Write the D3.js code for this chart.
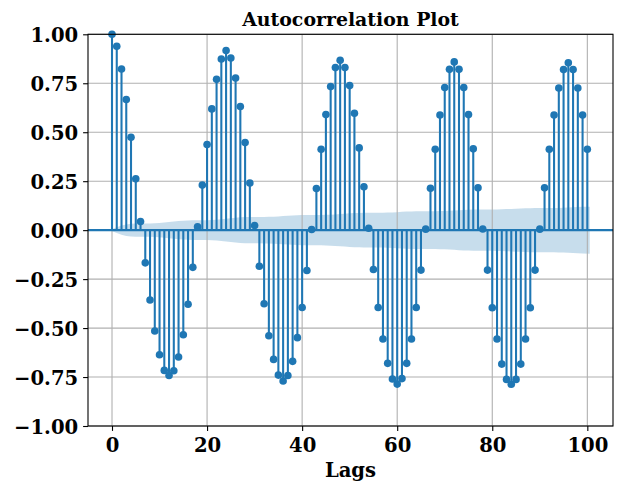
<!DOCTYPE html>
<html>
<head>
<meta charset="utf-8">
<script src="https://cdn.jsdelivr.net/npm/d3@7"></script>
<style>
  html, body { margin: 0; padding: 0; background: #fff; }
  svg { display: block; }
  text { font-family: "DejaVu Serif", serif; font-weight: bold; fill: #000; }
</style>
</head>
<body>
<svg id="chart" width="619" height="485"></svg>
<script>
// ---- data ----
const title = "Autocorrelation Plot";
const xLabel = "Lags";
const acfValues = [
  1.000, 0.939, 0.823, 0.667, 0.474, 0.262, 0.044, -0.167, -0.357, -0.515,
  -0.636, -0.716, -0.742, -0.718, -0.648, -0.534, -0.378, -0.190, 0.017, 0.230,
  0.437, 0.619, 0.770, 0.874, 0.917, 0.879, 0.777, 0.631, 0.447, 0.241,
  0.024, -0.184, -0.376, -0.539, -0.660, -0.740, -0.770, -0.742, -0.670, -0.549,
  -0.395, -0.206, 0.003, 0.213, 0.413, 0.590, 0.733, 0.830, 0.867, 0.830,
  0.738, 0.597, 0.420, 0.221, 0.010, -0.201, -0.395, -0.556, -0.680, -0.760,
  -0.786, -0.758, -0.680, -0.556, -0.395, -0.204, 0.005, 0.214, 0.413, 0.588,
  0.728, 0.821, 0.859, 0.821, 0.728, 0.590, 0.415, 0.216, 0.006, -0.204,
  -0.396, -0.556, -0.684, -0.762, -0.787, -0.762, -0.684, -0.556, -0.396, -0.204,
  0.005, 0.216, 0.413, 0.588, 0.726, 0.820, 0.855, 0.820, 0.726, 0.588,
  0.413
];
const lags = acfValues.map((_, i) => i);
const xTicks = [0, 20, 40, 60, 80, 100];
const yTicks = [-1.00, -0.75, -0.50, -0.25, 0.00, 0.25, 0.50, 0.75, 1.00];
const nObs = 18500;       // sample size behind the confidence band
const zCrit = 1.959964;   // 95% two-sided

// Bartlett confidence half-widths (as statsmodels plot_acf)
const halfWidth = [];
let cum = 0;
for (let k = 0; k < acfValues.length; k++) {
  if (k === 0) halfWidth.push(0);
  else if (k === 1) halfWidth.push(zCrit * Math.sqrt(1 / nObs));
  else {
    cum += acfValues[k - 1] ** 2;
    halfWidth.push(zCrit * Math.sqrt((1 + 2 * cum) / nObs));
  }
}
const bandLags = lags.map((l, i) => i === 0 ? l - 0.5 : (i === lags.length - 1 ? l + 0.5 : l));

// ---- layout ----
const svg = d3.select("#chart");
const plot = { left: 88, right: 613, top: 34.3, bottom: 426 };
const x = d3.scaleLinear().domain([-5.05, 105.4]).range([plot.left, plot.right]);
const y = d3.scaleLinear().domain([-1, 1]).range([plot.bottom, plot.top]);
const C0 = "#1f77b4";

const clipId = "clip";
svg.append("clipPath").attr("id", clipId).append("rect")
  .attr("x", plot.left).attr("y", plot.top)
  .attr("width", plot.right - plot.left).attr("height", plot.bottom - plot.top);

// band (below grid)
const area = d3.area()
  .x((d, i) => x(bandLags[i]))
  .y0((d, i) => y(-halfWidth[i]))
  .y1((d, i) => y(halfWidth[i]));
svg.append("path").datum(acfValues)
  .attr("d", area)
  .attr("fill", C0).attr("fill-opacity", 0.25)
  .attr("clip-path", `url(#${clipId})`);

// grid
const grid = svg.append("g").attr("stroke", "#b0b0b0").attr("stroke-width", 1.1);
grid.selectAll("line.gx").data(xTicks).join("line")
  .attr("x1", d => x(d)).attr("x2", d => x(d))
  .attr("y1", plot.top).attr("y2", plot.bottom);
grid.selectAll("line.gy").data(yTicks).join("line")
  .attr("x1", plot.left).attr("x2", plot.right)
  .attr("y1", d => y(d)).attr("y2", d => y(d));

// stems
const g = svg.append("g").attr("clip-path", `url(#${clipId})`);
g.selectAll("line.stem").data(acfValues).join("line")
  .attr("x1", (d, i) => x(lags[i])).attr("x2", (d, i) => x(lags[i]))
  .attr("y1", y(0)).attr("y2", d => y(d))
  .attr("stroke", C0).attr("stroke-width", 2.08);
// zero line
g.append("line")
  .attr("x1", plot.left).attr("x2", plot.right)
  .attr("y1", y(0)).attr("y2", y(0))
  .attr("stroke", C0).attr("stroke-width", 2.08);
// markers
svg.append("g").selectAll("circle").data(acfValues).join("circle")
  .attr("cx", (d, i) => x(lags[i])).attr("cy", d => y(d))
  .attr("r", 3.8).attr("fill", C0);

// axes
const xAxis = d3.axisBottom(x).tickValues(xTicks).tickFormat(d3.format("d"))
  .tickSize(4.9).tickPadding(4.9);
const yAxis = d3.axisLeft(y).tickValues(yTicks).tickFormat(d => d3.format(".2f")(d).replace("-", "\u2212"))
  .tickSize(4.9).tickPadding(4.9);
const gx = svg.append("g").attr("transform", `translate(0,${plot.bottom})`).call(xAxis);
const gy = svg.append("g").attr("transform", `translate(${plot.left},0)`).call(yAxis);
[gx, gy].forEach(a => {
  a.select(".domain").remove();
  a.selectAll(".tick line").attr("stroke", "#000").attr("stroke-width", 1.1);
  a.selectAll(".tick text").style("font-family", "'DejaVu Serif', serif")
    .style("font-weight", "bold").style("font-size", "19.6px").attr("fill", "#000");
});
gx.selectAll(".tick text").attr("dy", null).attr("y", 26);
gy.selectAll(".tick text").attr("dy", "0.36em");

// spines
svg.append("rect")
  .attr("x", plot.left).attr("y", plot.top)
  .attr("width", plot.right - plot.left).attr("height", plot.bottom - plot.top)
  .attr("fill", "none").attr("stroke", "#000").attr("stroke-width", 1.1);

// title and label
svg.append("text").attr("x", (plot.left + plot.right) / 2).attr("y", 26)
  .attr("text-anchor", "middle").style("font-size", "18.9px").text(title);
svg.append("text").attr("x", (plot.left + plot.right) / 2).attr("y", 477)
  .attr("text-anchor", "middle").style("font-size", "19.6px").text(xLabel);
</script>
</body>
</html>
